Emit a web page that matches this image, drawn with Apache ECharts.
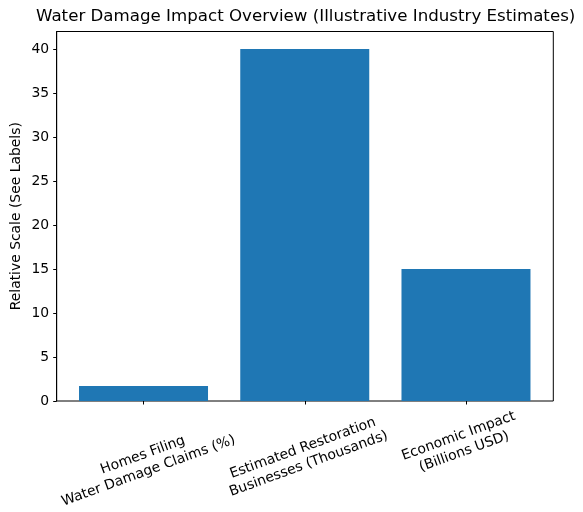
<!DOCTYPE html>
<html><head><meta charset="utf-8">
<script src="https://cdn.jsdelivr.net/npm/echarts@6/dist/echarts.min.js"></script>
<style>html,body{margin:0;padding:0;background:#fff}#c{width:583px;height:512px}</style>
</head><body><div id="c"></div>
<script>
const categories = ['Homes Filing\nWater Damage Claims (%)', 'Estimated Restoration\nBusinesses (Thousands)', 'Economic Impact\n(Billions USD)'];
const values = [1.7, 40, 15];
const yTicks = [0, 5, 10, 15, 20, 25, 30, 35, 40];

const font = 'DejaVu Sans';
// label placement tweaks (spacer height above text, spacer width after each line)
const labelSpacerH = [43, 29, 2.5];
const labelSpacerW = [11, 8.4, 10.7];
const rich = {t: {fontFamily: font, fontSize: 13.9, lineHeight: 16.7, color: '#000'}};
labelSpacerH.forEach((h, i) => {
  rich['s' + i] = {fontSize: 1, height: h, lineHeight: h};
  rich['p' + i] = {fontSize: 1, width: labelSpacerW[i]};
});

const chart = echarts.init(document.getElementById('c'), null, {renderer: 'canvas'});
chart.setOption({
  animation: false,
  backgroundColor: '#fff',
  title: {
    text: 'Water Damage Impact Overview (Illustrative Industry Estimates)',
    left: 31, top: 3,
    textStyle: {fontFamily: font, fontSize: 16.67, fontWeight: 'normal', color: '#000'}
  },
  grid: [
    {left: 56.7, right: 29.7, top: 31.5, bottom: 111, outerBoundsMode: 'none', containLabel: false, show: true, borderColor: '#000', borderWidth: 1, backgroundColor: 'transparent'},
    {left: 62.9, right: 36.4, top: 31.5, bottom: 111, outerBoundsMode: 'none', containLabel: false}
  ],
  xAxis: [
    {gridIndex: 0, type: 'category', data: categories, show: false},
    {gridIndex: 1, type: 'category', data: categories,
     axisLine: {show: false},
     axisTick: {show: true, alignWithLabel: true, length: 3.5, lineStyle: {color: '#000', width: 1}},
     axisLabel: {interval: 0, rotate: 20, align: 'center', verticalAlign: 'middle', margin: 40,
       fontFamily: font, fontSize: 13.9, color: '#000', lineHeight: 16.7, rich: rich,
       formatter: (v, i) => '{s' + i + '| }\n' + v.split('\n').map(l => '{t|' + l + '}{p' + i + '| }').join('\n')}}
  ],
  yAxis: [
    {gridIndex: 0, type: 'value', min: 0, max: 42,
     name: 'Relative Scale (See Labels)', nameLocation: 'middle', nameGap: 33, nameMoveOverlap: false,
     nameTextStyle: {fontFamily: font, fontSize: 13.9, color: '#000'},
     axisLine: {show: true, lineStyle: {color: '#000', width: 1}},
     axisTick: {show: true, length: 3.5, customValues: yTicks, lineStyle: {color: '#000'}},
     axisLabel: {customValues: yTicks, margin: 7.5, fontFamily: font, fontSize: 13.9, color: '#000'},
     splitLine: {show: false}},
    {gridIndex: 1, type: 'value', min: 0, max: 42, show: false, splitLine: {show: false}}
  ],
  series: [{
    type: 'bar', xAxisIndex: 1, yAxisIndex: 1, data: values, barWidth: 129,
    itemStyle: {color: '#1f77b4'}
  }]
});
</script></body></html>
